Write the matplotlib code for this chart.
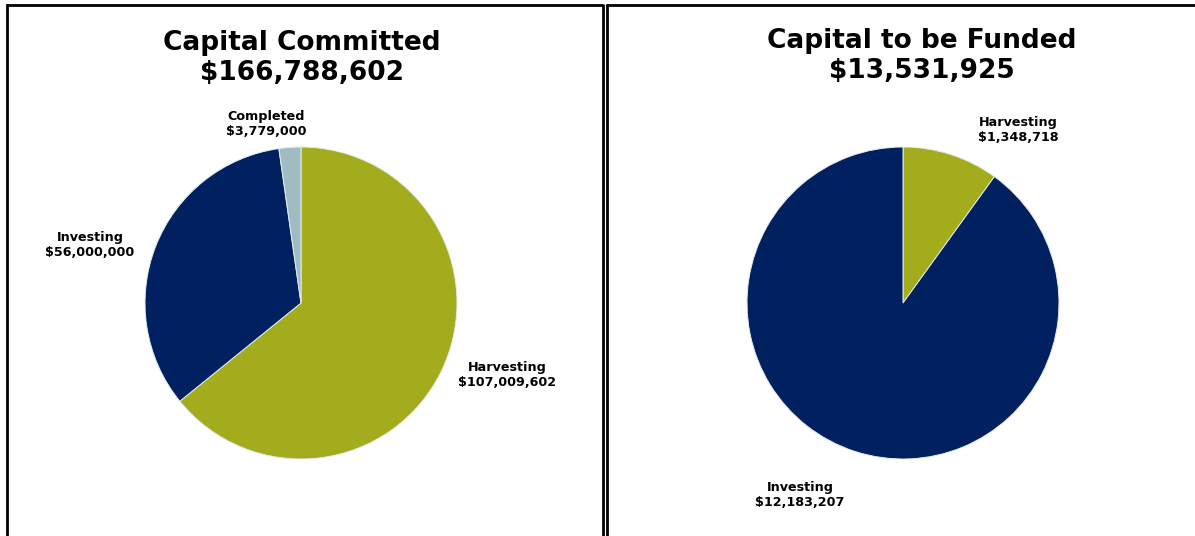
import matplotlib.pyplot as plt
from matplotlib.lines import Line2D

# data
committed_labels = ['Harvesting', 'Investing', 'Completed']
committed_values = [107009602, 56000000, 3779000]
funded_labels = ['Harvesting', 'Investing']
funded_values = [1348718, 12183207]

olive = '#A3AC1D'
navy = '#002060'
grey_blue = '#A0BCC2'

W, H = 1195, 536
fig = plt.figure(figsize=(W / 100, H / 100), dpi=100)
fig.patch.set_facecolor('white')


def fx(x):
    return x / W


def fy(y):
    return 1 - y / H


def money(v):
    return '${:,}'.format(v)


def pie_panel(cx, cy, r, values, colors):
    ax = fig.add_axes([fx(cx - r), fy(cy + r), 2 * r / W, 2 * r / H])
    ax.pie(values, colors=colors, startangle=90, counterclock=False,
           radius=1, wedgeprops=dict(edgecolor='#E4ECEE', linewidth=0.7))
    ax.set_xlim(-1, 1)
    ax.set_ylim(-1, 1)
    ax.set_aspect('auto')
    ax.axis('off')
    return ax


pie_panel(301, 303, 156, committed_values, [olive, navy, grey_blue])
pie_panel(903, 303, 156, funded_values, [olive, navy])

# titles
tkw = dict(ha='center', va='center', fontsize=19, fontweight='bold',
           family='DejaVu Sans', linespacing=1.2)
fig.text(fx(302), fy(58), 'Capital Committed\n' + money(sum(committed_values)), **tkw)
fig.text(fx(922), fy(56), 'Capital to be Funded\n' + money(sum(funded_values)), **tkw)

# slice labels
lkw = dict(ha='center', va='center', fontsize=9.2, fontweight='bold',
           family='DejaVu Sans', linespacing=1.15)
left_pos = {'Harvesting': (507, 375), 'Investing': (90, 245), 'Completed': (266, 124)}
for lab, v in zip(committed_labels, committed_values):
    x, y = left_pos[lab]
    fig.text(fx(x), fy(y), lab + '\n' + money(v), **lkw)
right_pos = {'Harvesting': (1018, 130), 'Investing': (800, 495)}
for lab, v in zip(funded_labels, funded_values):
    x, y = right_pos[lab]
    fig.text(fx(x), fy(y), lab + '\n' + money(v), **lkw)

# panel borders
bkw = dict(color='black', linewidth=2, solid_capstyle='butt')
fig.add_artist(Line2D([fx(7), fx(7)], [fy(4), 0], **bkw))
fig.add_artist(Line2D([fx(6), fx(603)], [fy(5), fy(5)], **bkw))
fig.add_artist(Line2D([fx(603), fx(603)], [fy(4), 0], **bkw))
fig.add_artist(Line2D([fx(607), fx(607)], [fy(4), 0], **bkw))
fig.add_artist(Line2D([fx(606), 1], [fy(5), fy(5)], **bkw))

fig.savefig('out.png', dpi=100)
